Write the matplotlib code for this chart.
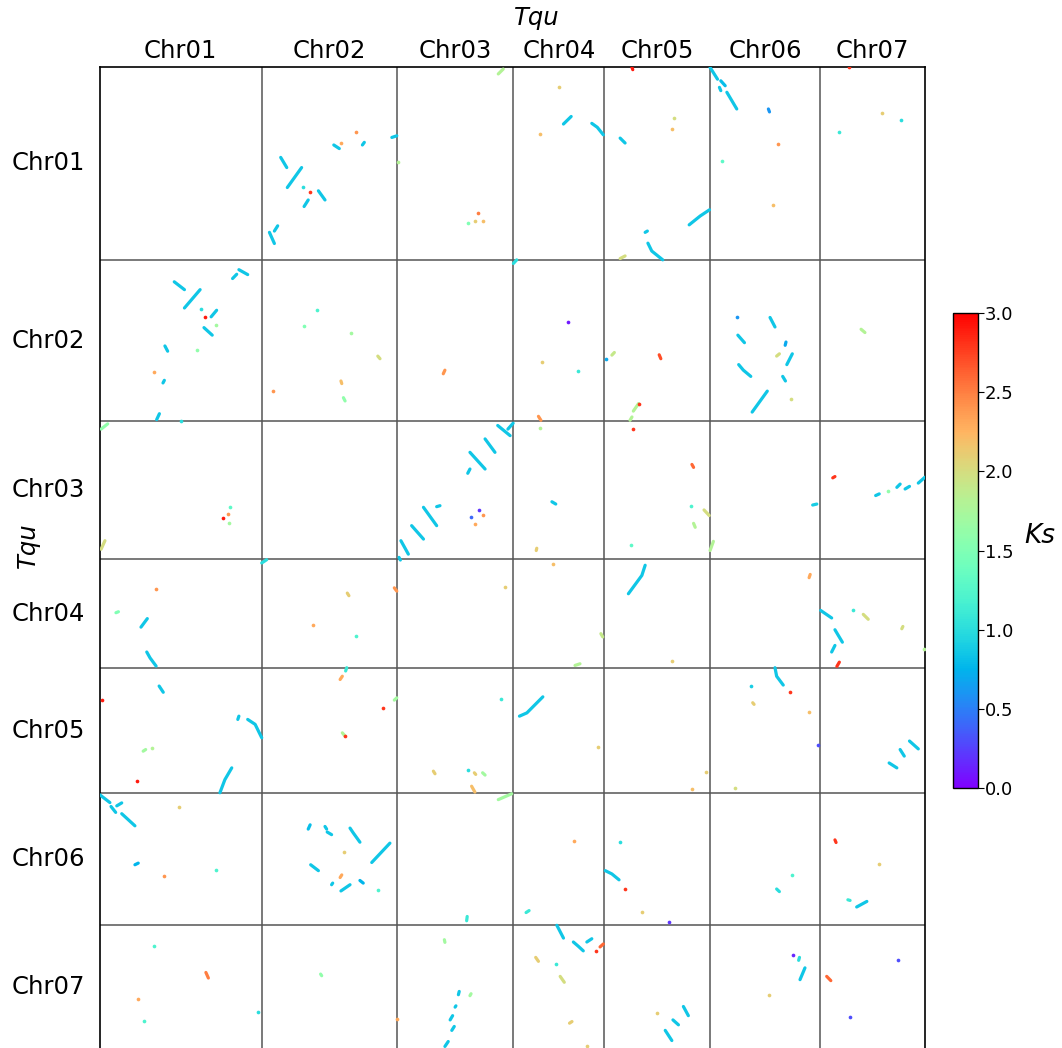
import numpy as np
import matplotlib.pyplot as plt
from matplotlib import colors
from matplotlib.transforms import blended_transform_factory

chroms = ["Chr01", "Chr02", "Chr03", "Chr04", "Chr05", "Chr06", "Chr07"]
lengths = [58.9, 49.3, 42.2, 33.1, 38.4, 40.1, 38.0]  # Mb, same genome on both axes

# syntenic hits, one list per y-axis chromosome
# (x-axis chromosome, x positions Mb, y positions Mb, Ks)
hits_chr01 = [
    (2, [6.9, 9.1], [27.6, 30.7], 0.85), (2, [14.5, 9.3], [30.7, 36.8], 0.85),
    (2, [15.0], [36.7], 1.0), (2, [17.6], [38.3], 2.8),
    (2, [20.6, 23.0], [37.8, 40.6], 0.85), (2, [16.9, 15.4], [40.6, 42.6], 0.85),
    (2, [5.8, 4.6], [48.5, 50.1], 0.85), (2, [2.8, 4.6], [50.5, 53.9], 0.85),
    (2, [26.2, 28.2], [23.8, 24.9], 0.85), (2, [28.8], [23.2], 2.3),
    (2, [34.3], [19.8], 2.4), (2, [37.3, 36.6], [23.0, 23.8], 0.85),
    (2, [47.3, 49.1], [21.5, 21.0], 0.85),
    (3, [0.1], [29.1], 1.8), (3, [36.7, 38.5], [2.1, 0.6], 1.8),
    (3, [29.4], [44.6], 2.5), (3, [25.8], [47.5], 1.5),
    (3, [28.2], [47.0], 2.1), (3, [31.0], [47.0], 2.2),
    (4, [16.4], [6.2], 2.1), (4, [18.2, 21.0], [17.4, 15.1], 0.85),
    (4, [9.5], [20.5], 2.2), (4, [28.5, 30.5, 32.7], [17.2, 18.4, 20.7], 0.85),
    (5, [10.0, 10.3], [0.1, 0.8], 2.9), (5, [25.4], [15.7], 2.0),
    (5, [24.5], [19.0], 2.2), (5, [5.7, 7.5], [21.7, 23.2], 0.85),
    (5, [30.8, 34.8, 38.2], [48.2, 45.5, 43.6], 0.85), (5, [14.8, 15.6], [50.5, 50.1], 0.85),
    (5, [15.8, 17.2, 21.2], [53.8, 56.2, 58.9], 0.85), (5, [5.7, 7.5], [58.5, 57.7], 2.0),
    (6, [0.0, 2.7], [0.1, 3.7], 0.85), (6, [3.9, 5.5], [4.2, 5.7], 0.8),
    (6, [3.4, 3.9], [6.2, 7.2], 0.85), (6, [6.1, 9.7], [7.7, 12.8], 0.85),
    (6, [21.2, 21.6], [12.8, 13.7], 0.6), (6, [24.8], [23.5], 2.4),
    (6, [4.3], [28.7], 1.3), (6, [23.0], [42.1], 2.2),
    (7, [10.5], [0.1], 2.8), (7, [22.5], [13.9], 2.1),
    (7, [29.2], [16.2], 1.0), (7, [6.7], [19.8], 1.1),
]
hits_chr02 = [
    (1, [27.1, 30.8], [6.7, 9.1], 0.85), (1, [36.5, 30.8], [9.1, 14.7], 0.85),
    (1, [36.8], [15.1], 1.0), (1, [42.5, 40.5], [15.4, 17.4], 0.85),
    (1, [38.3], [17.6], 2.9), (1, [42.2], [19.8], 1.7),
    (1, [37.9, 40.9], [20.7, 23.0], 0.85), (1, [50.6, 53.8], [3.0, 4.5], 0.85),
    (1, [49.8, 48.3], [4.4, 5.7], 0.85), (1, [23.7, 24.7], [26.3, 27.9], 0.85),
    (1, [35.3], [27.6], 1.6), (1, [19.8], [34.2], 2.3),
    (1, [23.5, 23.0], [36.8, 37.6], 0.85), (1, [21.7, 20.7], [47.0, 48.8], 0.85),
    (1, [29.4], [49.2], 1.0),
    (2, [20.2], [15.4], 1.2), (2, [15.4], [20.3], 1.5), (2, [32.5], [22.3], 1.7),
    (2, [42.2, 43.0], [29.4, 30.2], 2.0), (2, [28.8, 29.1], [37.0, 37.8], 2.2),
    (2, [4.2], [40.1], 2.4), (2, [29.7, 30.3], [42.1, 43.1], 1.6),
    (3, [17.3, 16.7], [33.7, 34.8], 2.4),
    (4, [0.0, 1.2], [1.1, 0.0], 1.0), (4, [20.0], [19.0], 0.1),
    (4, [10.5], [31.2], 2.1), (4, [23.4], [34.0], 1.1),
    (4, [9.1, 10.0], [47.8, 49.0], 2.4),
    (5, [0.6], [30.2], 0.7), (5, [2.7, 3.6], [29.1, 28.3], 1.9),
    (5, [19.9, 20.5], [29.0, 30.2], 2.7), (5, [10.5, 12.4], [46.2, 43.9], 1.8),
    (5, [12.4], [43.9], 2.8), (5, [9.3, 10.0], [49.0, 48.0], 1.8),
    (6, [9.7], [17.4], 0.6), (6, [21.8, 23.6], [17.6, 20.5], 0.85),
    (6, [10.1, 12.5], [23.0, 25.3], 0.85), (6, [27.6, 27.3], [25.1, 26.1], 0.7),
    (6, [25.2, 24.2], [28.7, 29.4], 2.0), (6, [29.9, 27.9], [28.7, 32.0], 0.85),
    (6, [10.4, 12.1, 14.8], [32.0, 33.7, 35.6], 0.85), (6, [26.4, 27.4], [35.6, 37.0], 0.85),
    (6, [20.8, 15.3], [40.1, 46.5], 0.85), (6, [29.4], [42.4], 2.0),
    (7, [14.8, 16.2], [21.2, 22.2], 1.8),
]
hits_chr03 = [
    (1, [0.5, 2.9], [2.4, 0.8], 1.6), (1, [47.4], [26.1], 1.3),
    (1, [46.7], [28.3], 2.4), (1, [44.7], [29.6], 2.9),
    (1, [47.0], [31.2], 1.7), (1, [1.9, 0.5], [36.5, 39.1], 2.0),
    (3, [36.5, 41.0], [1.3, 4.4], 0.85), (3, [40.2, 42.1], [2.4, 0.6], 0.85),
    (3, [31.9, 35.5], [5.4, 9.5], 0.85), (3, [26.4, 31.9], [9.5, 14.6], 0.85),
    (3, [26.4, 25.6], [14.6, 15.9], 0.85), (3, [9.5, 14.3], [26.3, 31.9], 0.85),
    (3, [14.3, 15.5], [26.1, 25.8], 0.85), (3, [5.2, 9.5], [31.9, 36.0], 0.85),
    (3, [1.3, 4.0], [36.5, 40.6], 0.85), (3, [0.6, 1.1], [41.6, 42.4], 0.85),
    (3, [29.7], [27.1], 0.2), (3, [31.3], [28.5], 2.4),
    (3, [26.8], [29.4], 0.4), (3, [28.2], [31.4], 2.3),
    (4, [9.7], [2.0], 1.8), (4, [14.0, 15.4], [24.6, 25.3], 0.85),
    (4, [8.5, 8.3], [38.8, 39.5], 2.1),
    (5, [10.2], [2.4], 2.8), (5, [31.8, 32.4], [13.2, 14.1], 2.6),
    (5, [31.4], [25.8], 1.2), (5, [36.2, 38.1], [27.1, 28.8], 2.0),
    (5, [32.4, 33.0], [31.2, 32.4], 1.8), (5, [9.7], [37.8], 1.3),
    (6, [1.2, 0.0], [36.7, 39.5], 1.8), (6, [37.3, 38.8], [25.6, 25.3], 0.9),
    (7, [4.5, 5.3], [17.3, 16.9], 2.8), (7, [20.1, 21.4], [22.7, 22.2], 0.85),
    (7, [24.5], [21.2], 1.6), (7, [27.8, 29.0], [20.2, 19.2], 0.85),
    (7, [30.8, 32.4], [20.7, 19.9], 0.85), (7, [35.6, 38.0], [18.9, 17.1], 0.85),
]
hits_chr04 = [
    (1, [20.5], [9.2], 2.4), (1, [5.9, 6.8], [16.3, 16.0], 1.5),
    (1, [15.0, 17.3], [20.7, 18.1], 0.85), (1, [17.1, 18.3, 20.5], [28.3, 30.1, 32.6], 0.85),
    (2, [0.0, 1.8], [1.1, 0.1], 1.0), (2, [31.1, 31.7], [10.3, 11.1], 2.1),
    (2, [48.2, 49.1], [8.7, 9.7], 2.4), (2, [18.8], [19.9], 2.3),
    (2, [34.3], [23.3], 1.2),
    (3, [39.1], [8.3], 2.1),
    (4, [14.5], [1.3], 2.2), (4, [31.8, 32.5], [22.7, 23.7], 1.9),
    (4, [22.4, 24.2], [32.4, 31.9], 1.8),
    (5, [14.8, 13.6, 8.7], [1.8, 4.9, 10.5], 0.85), (5, [24.5], [30.9], 2.1),
    (6, [36.0, 36.4], [5.6, 4.6], 2.3),
    (7, [0.1, 4.1], [15.6, 17.9], 0.85), (7, [12.0], [15.4], 1.1),
    (7, [15.6, 17.4], [16.8, 18.3], 2.0), (7, [30.0, 29.6], [20.5, 21.2], 2.0),
    (7, [5.3, 6.5, 8.0], [21.5, 23.2, 25.3], 0.85), (7, [5.3, 4.1], [26.3, 28.3], 0.85),
    (7, [6.9, 6.0], [31.4, 32.7], 2.8), (7, [37.8], [27.3], 1.8),
]
hits_chr05 = [
    (1, [21.6, 23.1], [5.6, 7.5], 0.85), (1, [0.7], [9.9], 2.9),
    (1, [50.6, 50.2], [14.8, 15.8], 0.85), (1, [53.8, 56.5, 58.9], [15.8, 17.3, 21.4], 0.85),
    (1, [15.8, 16.7], [25.5, 25.0], 1.7), (1, [18.9], [24.5], 1.8),
    (1, [13.4], [34.7], 2.9), (1, [48.0, 45.5, 43.7], [30.6, 34.2, 38.2], 0.85),
    (2, [30.9, 30.5], [0.0, 1.0], 1.1), (2, [28.5, 29.3], [3.6, 2.6], 2.3),
    (2, [48.2, 49.1], [9.9, 9.2], 1.7), (2, [44.2], [12.2], 2.8),
    (2, [29.3, 30.3], [19.9, 20.9], 1.8), (2, [30.3], [20.9], 2.8),
    (3, [37.7], [9.7], 1.1), (3, [13.1, 13.7], [31.6, 32.4], 2.1),
    (3, [25.8], [31.4], 1.0), (3, [28.0, 28.5], [32.1, 32.6], 2.1),
    (3, [31.0, 31.9], [32.1, 32.8], 1.7), (3, [27.0, 28.2], [36.2, 38.0], 2.2),
    (4, [2.2, 4.9, 10.7], [14.8, 13.8, 8.9], 0.85), (4, [30.9], [24.3], 2.1),
    (5, [37.0], [31.8], 2.1), (5, [31.8], [37.0], 2.2),
    (6, [23.6, 24.2, 26.6], [0.0, 2.6, 5.3], 0.85), (6, [14.8], [5.6], 0.9),
    (6, [29.1], [7.3], 2.8), (6, [15.5, 16.0], [10.7, 11.2], 2.1),
    (6, [36.0], [13.6], 2.2), (6, [39.4], [23.5], 0.3), (6, [9.1], [36.7], 2.0),
    (7, [25.0, 27.8], [29.1, 30.6], 0.85), (7, [29.0, 30.5], [25.0, 27.0], 0.85),
    (7, [32.4, 35.6], [22.4, 24.8], 0.85),
]
hits_chr06 = [
    (1, [0.0, 3.7], [0.4, 2.8], 0.85), (1, [4.1, 5.8], [4.0, 5.8], 0.85),
    (1, [6.2, 8.0], [3.8, 2.9], 0.85), (1, [8.0, 12.8], [6.2, 9.9], 0.85),
    (1, [28.8], [4.2], 2.1), (1, [12.8, 14.0], [21.8, 21.3], 0.75),
    (1, [23.4], [25.2], 2.4), (1, [42.2], [23.3], 1.2),
    (2, [17.6, 16.9], [9.6, 10.9], 0.8), (2, [23.0, 23.6], [10.1, 10.9], 0.85),
    (2, [23.8, 25.4], [11.8, 12.6], 0.85), (2, [32.1, 33.3, 35.7], [10.6, 12.1, 14.9], 0.85),
    (2, [30.0], [18.0], 2.1), (2, [46.6, 40.0], [15.2, 21.1], 0.85),
    (2, [17.8, 20.6], [21.8, 23.6], 0.85), (2, [29.1, 28.5], [24.9, 25.7], 2.3),
    (2, [25.8, 25.4], [27.4, 27.9], 0.85), (2, [28.8, 32.1], [29.8, 27.9], 0.85),
    (2, [35.7, 36.9], [26.6, 27.4], 0.75), (2, [42.4], [29.4], 1.2),
    (3, [36.7, 41.6], [1.9, 0.1], 1.7), (3, [25.4, 25.2], [37.6, 38.9], 1.1),
    (4, [22.2], [14.5], 2.3), (4, [4.6, 5.7], [36.4, 35.8], 1.1),
    (5, [5.5], [14.9], 1.0), (5, [0.3, 2.7, 5.3], [23.6, 24.6, 26.4], 0.85),
    (5, [7.5], [29.2], 2.8), (5, [13.6], [36.1], 2.1), (5, [23.3], [39.4], 0.2),
    (6, [29.7], [24.9], 1.2), (6, [24.2, 25.2], [29.2, 30.0], 1.0),
    (7, [5.3, 5.7], [14.2, 15.0], 2.8), (7, [21.3], [21.6], 2.1),
    (7, [10.0, 10.8], [32.5, 32.7], 1.1), (7, [13.2, 16.9], [34.7, 33.0], 0.85),
]
hits_chr07 = [
    (1, [19.8], [6.6], 1.2), (1, [38.6, 39.5], [14.6, 16.3], 2.5),
    (1, [13.8], [22.7], 2.3), (1, [16.2], [29.3], 1.2), (1, [57.4], [26.8], 1.0),
    (2, [21.4, 21.8], [15.1, 15.6], 1.6), (2, [49.1], [28.7], 2.3),
    (3, [17.1, 17.3], [4.6, 5.4], 1.7), (3, [22.5, 22.2], [20.4, 21.4], 0.85),
    (3, [26.8, 26.4], [21.1, 21.7], 1.7), (3, [21.3, 21.0], [24.8, 25.2], 0.85),
    (3, [20.1, 19.2], [27.8, 29.1], 0.85), (3, [20.7, 19.8], [31.1, 32.3], 0.85),
    (3, [18.5, 17.3], [35.7, 37.2], 0.85),
    (4, [15.8, 18.2], [0.2, 4.1], 0.85), (4, [21.8, 23.6, 25.4], [5.3, 6.6, 8.0], 0.85),
    (4, [26.7, 28.5], [5.3, 4.3], 0.85), (4, [30.0], [7.9], 2.8),
    (4, [31.5, 32.7], [6.8, 5.9], 2.6), (4, [8.1, 9.1], [10.0, 11.2], 2.1),
    (4, [15.5], [11.9], 1.1), (4, [17.0, 18.5], [15.8, 17.6], 2.0),
    (4, [20.4, 21.3], [30.1, 29.6], 2.1), (4, [26.7], [37.2], 2.1),
    (5, [19.0], [27.0], 2.1), (5, [28.7, 30.5], [25.0, 27.8], 0.85),
    (5, [24.9, 26.9], [29.1, 30.6], 0.85), (5, [22.1, 24.5], [32.3, 35.4], 0.85),
    (6, [30.1], [9.4], 0.15), (6, [32.5, 32.2], [10.0, 10.9], 1.0),
    (6, [34.5, 32.7], [13.2, 16.8], 0.85), (6, [21.6], [21.4], 2.1),
    (7, [2.3, 3.8], [15.8, 17.1], 2.6), (7, [28.1], [10.9], 0.3), (7, [10.8], [28.3], 0.3),
]
rows = [hits_chr01, hits_chr02, hits_chr03, hits_chr04, hits_chr05, hits_chr06, hits_chr07]

offsets = np.concatenate([[0], np.cumsum(lengths)])
total = offsets[-1]
cmap = plt.get_cmap("rainbow")
norm = colors.Normalize(vmin=0, vmax=3)

fig = plt.figure(figsize=(10.62, 10.48), dpi=100)
ax = fig.add_axes([0.0939, -0.001, 0.777, 0.937])

for r, hits in enumerate(rows):
    for xc, xs, ys, ks in hits:
        gx = offsets[xc - 1] + np.array(xs)
        gy = offsets[r] + np.array(ys)
        c = cmap(norm(ks))
        if len(xs) == 1:
            ax.scatter(gx, gy, s=7, color=c, lw=0, zorder=3)
        else:
            ax.plot(gx, gy, color=c, lw=2.3, solid_capstyle="round", zorder=3)

# chromosome borders
for o in offsets[1:-1]:
    ax.axvline(o, color="#555555", lw=1.1, zorder=1)
    ax.axhline(o, color="#555555", lw=1.1, zorder=1)

ax.set_xlim(0, total)
ax.set_ylim(total, 0)
ax.set_xticks([])
ax.set_yticks([])
for s in ax.spines.values():
    s.set_linewidth(1.2)

# chromosome names
tx = blended_transform_factory(ax.transData, ax.transAxes)
ty = blended_transform_factory(ax.transAxes, ax.transData)
for i, name in enumerate(chroms):
    mid = offsets[i] + lengths[i] / 2
    ax.text(mid, 1.0163, name, transform=tx, ha="center", va="center", fontsize=17.5)
    ax.text(-0.018, mid, name, transform=ty, ha="right", va="center", fontsize=17.5)

fig.text(537 / 1062, 1 - 18 / 1048, "Tqu", style="italic", fontsize=17.5, ha="center", va="center")
fig.text(28 / 1062, 1 - 545 / 1048, "Tqu", style="italic", fontsize=17.5, rotation=90,
         ha="center", va="center")

# Ks colour bar
cax = fig.add_axes([0.8977, 0.2478, 0.023, 0.4538])
sm = plt.cm.ScalarMappable(norm=norm, cmap=cmap)
cb = fig.colorbar(sm, cax=cax, ticks=np.arange(0, 3.01, 0.5))
cb.ax.tick_params(labelsize=13, length=4, pad=1)
cb.outline.set_linewidth(1.0)
fig.text(1040 / 1062, 1 - 536 / 1048, "Ks", style="italic", fontsize=19, ha="center", va="center")

fig.savefig("out.png", dpi=100)
